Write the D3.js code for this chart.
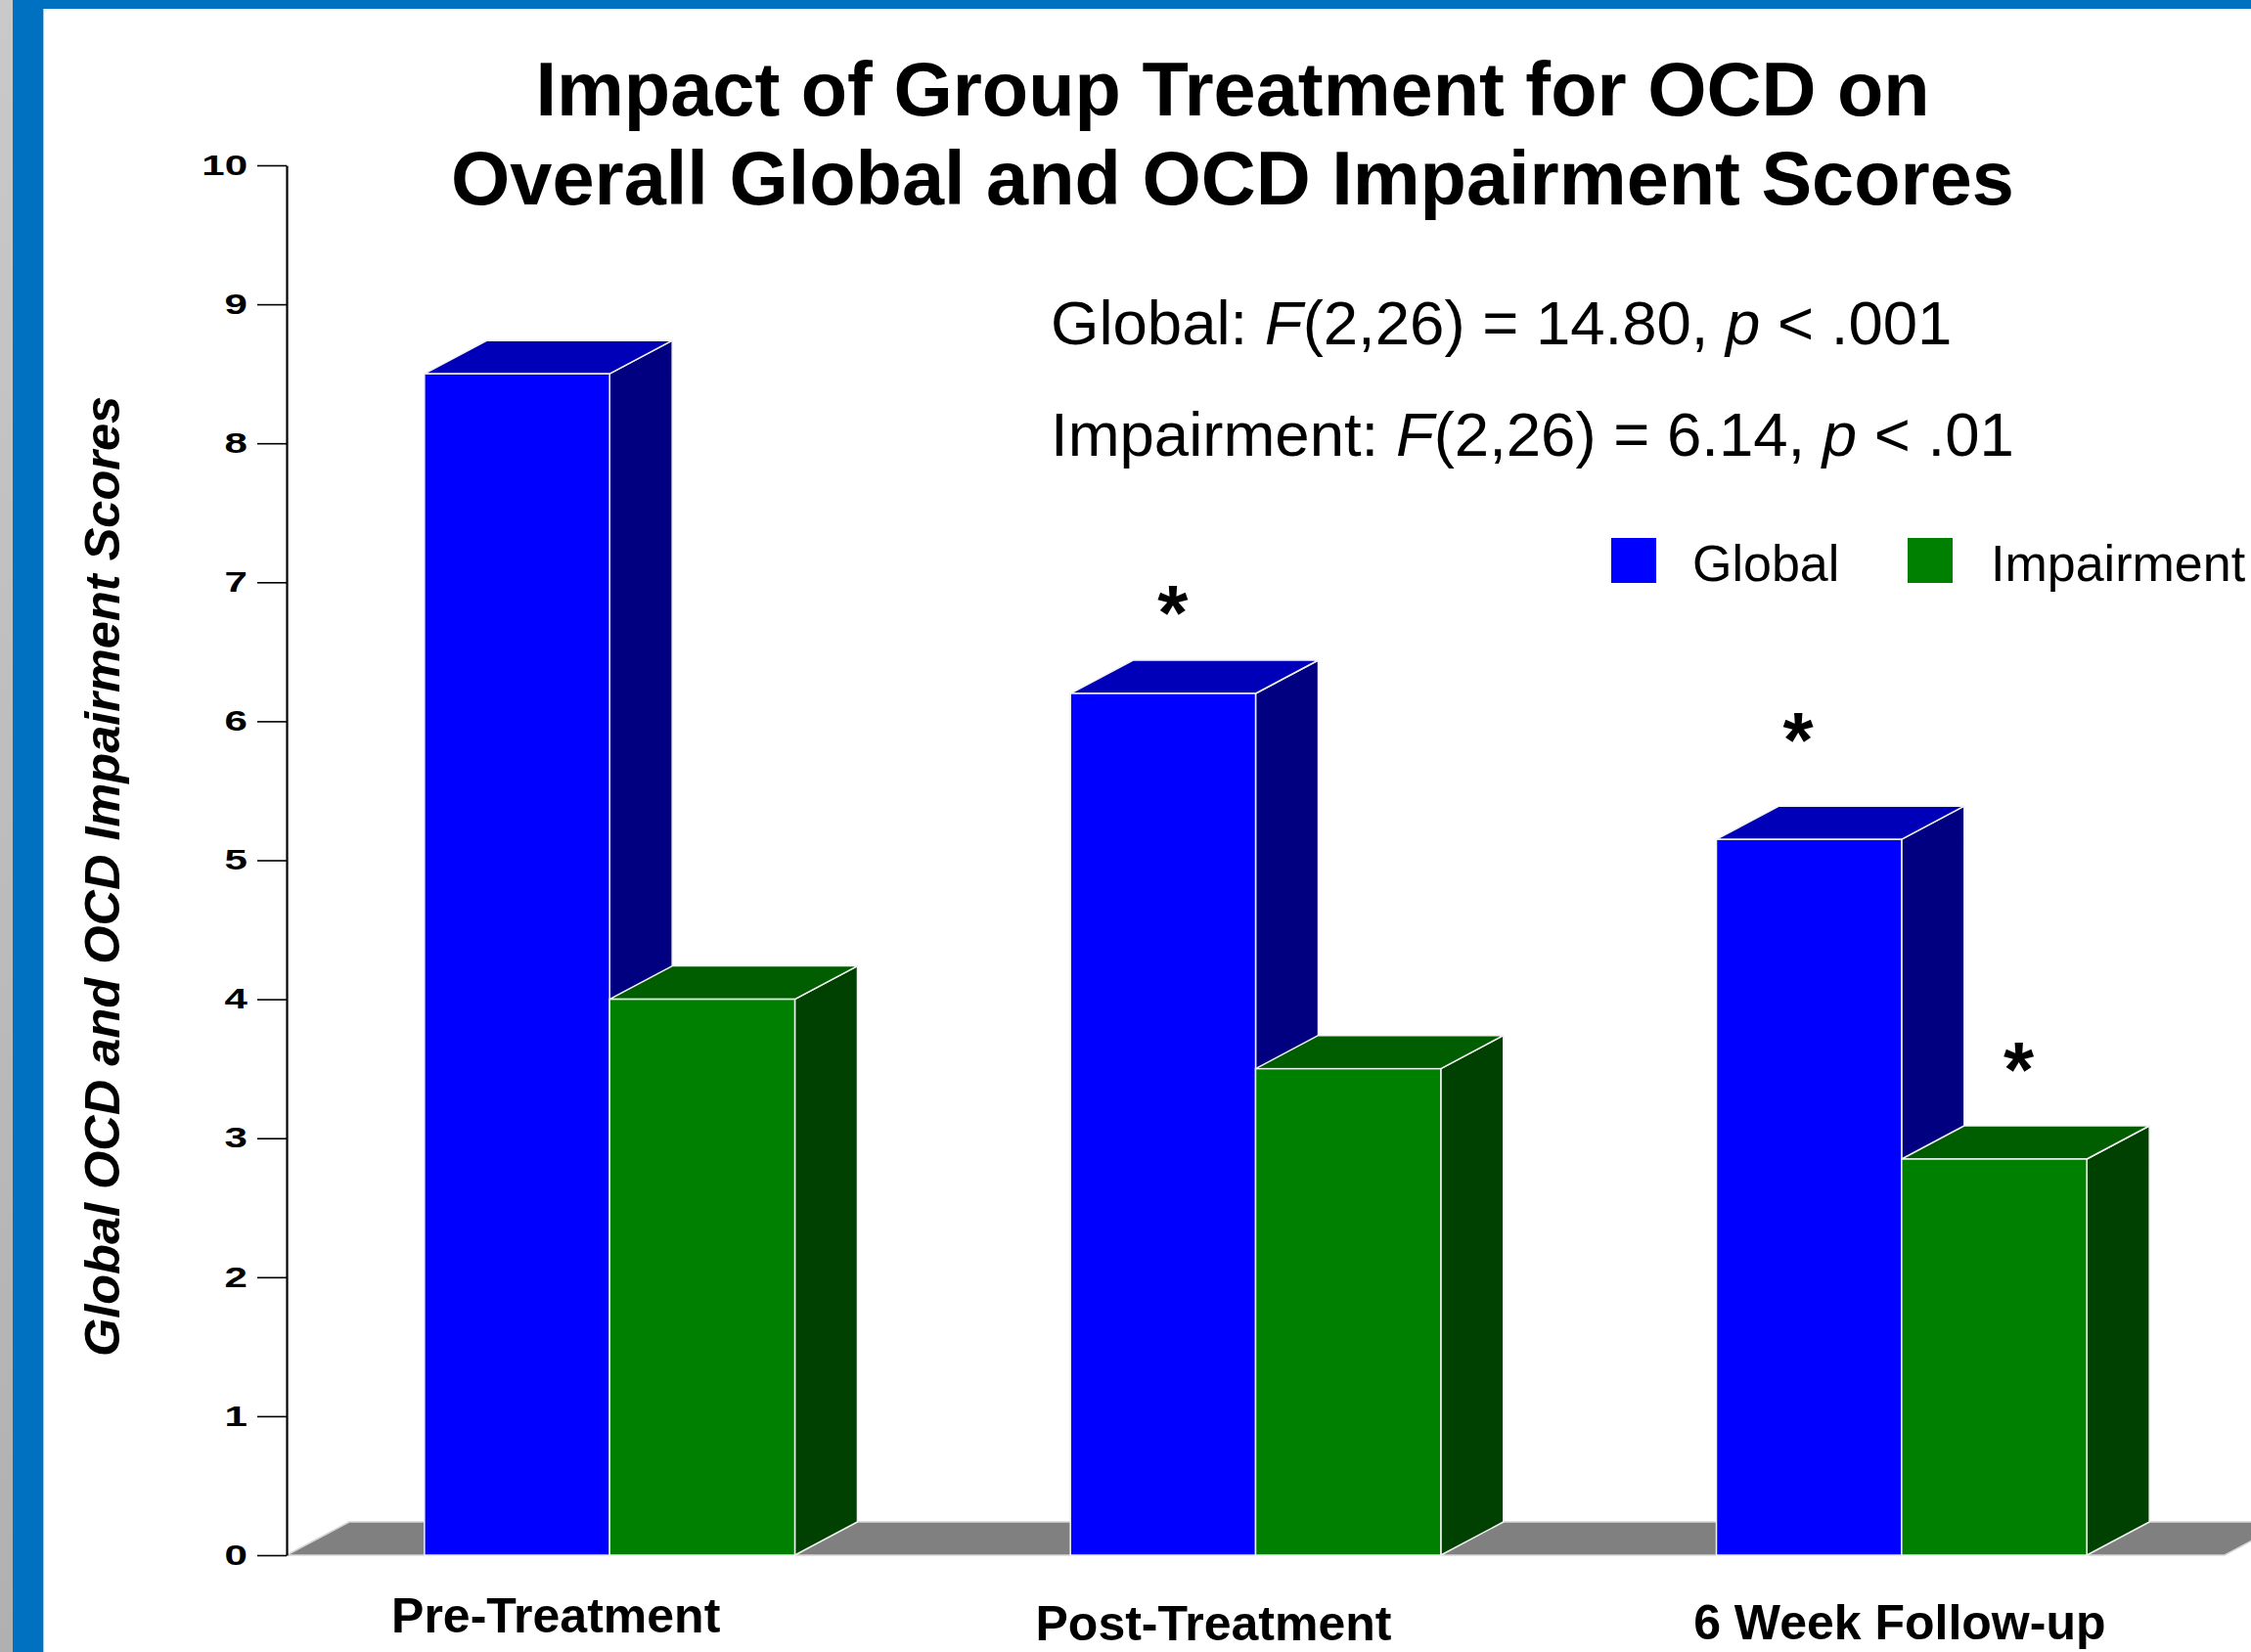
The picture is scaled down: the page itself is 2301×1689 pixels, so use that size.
<!DOCTYPE html>
<html>
<head>
<meta charset="utf-8">
<script src="https://cdn.jsdelivr.net/npm/d3@7"></script>
<style>
  html, body { margin: 0; padding: 0; background: #ffffff; overflow: hidden; }
  svg { display: block; }
</style>
</head>
<body>
<svg id="chart" width="2301" height="1689"></svg>
<script>
// ---- data ----
const categories = ["Pre-Treatment", "Post-Treatment", "6 Week Follow-up"];
const seriesNames = ["Global", "Impairment"];
const globalScores = [8.5, 6.2, 5.15];
const impairmentScores = [4.0, 3.5, 2.85];
const yTickValues = [0, 1, 2, 3, 4, 5, 6, 7, 8, 9, 10];
const significantBars = [
  { category: "Post-Treatment", series: "Global" },
  { category: "6 Week Follow-up", series: "Global" },
  { category: "6 Week Follow-up", series: "Impairment" }
];
const titleLines = [
  "Impact of Group Treatment for OCD on",
  "Overall Global and OCD Impairment Scores"
];
const yAxisTitle = "Global OCD and OCD Impairment Scores";
// each stat line as [text, italic?] runs
const statLines = [
  [["Global: ", false], ["F", true], ["(2,26) = 14.80, ", false], ["p", true], [" < .001", false]],
  [["Impairment: ", false], ["F", true], ["(2,26) = 6.14, ", false], ["p", true], [" < .01", false]]
];

const valuesBySeries = { Global: globalScores, Impairment: impairmentScores };
const rows = categories.map((c, i) => ({
  category: c,
  values: seriesNames.map(s => ({ series: s, value: valuesBySeries[s][i] }))
}));

// ---- layout ----
const svg = d3.select("#chart");
const W = 2301, H = 1689;
const plot = { left: 293, right: 2274, top: 169, bottom: 1590 };
const depth = { dx: 64, dy: 34 };

const faces = {
  Global:     { front: "#0000ff", top: "#0000b8", side: "#000080" },
  Impairment: { front: "#008000", top: "#005e00", side: "#004000" }
};

const y = d3.scaleLinear().domain([0, 10]).range([plot.bottom, plot.top]);
const x0 = d3.scaleBand().domain(categories).range([plot.left, plot.right])
  .paddingInner(0.4266).paddingOuter(0.2133);
const x1 = d3.scaleBand().domain(seriesNames).range([0, x0.bandwidth()]);

// ---- slide frame ----
const defs = svg.append("defs");
const grad = defs.append("linearGradient").attr("id", "edgeGray")
  .attr("x1", 0).attr("y1", 0).attr("x2", 0).attr("y2", 1);
grad.append("stop").attr("offset", "0%").attr("stop-color", "#c9c9c9");
grad.append("stop").attr("offset", "100%").attr("stop-color", "#b0b0b0");

svg.append("rect").attr("x", 0).attr("y", 0).attr("width", 13).attr("height", H).attr("fill", "url(#edgeGray)");
svg.append("rect").attr("x", 13).attr("y", 0).attr("width", 31).attr("height", H).attr("fill", "#0071c1");
svg.append("rect").attr("x", 13).attr("y", 0).attr("width", W - 13).attr("height", 9).attr("fill", "#0071c1");
svg.append("line").attr("x1", 44.5).attr("x2", 44.5).attr("y1", 9).attr("y2", H)
  .attr("stroke", "#9fcbee").attr("stroke-width", 1);

// ---- floor ----
const y0 = y(0);
const [rx0, rx1] = x0.range();
svg.append("polygon")
  .attr("points", [
    [rx0, y0], [rx0 + depth.dx, y0 - depth.dy],
    [rx1 + depth.dx, y0 - depth.dy], [rx1, y0]
  ].map(p => p.join(",")).join(" "))
  .attr("fill", "#808080")
  .attr("stroke", "#d6d6d6").attr("stroke-width", 1.5);

// ---- 3D bars ----
const bars = svg.append("g").attr("class", "bars");
rows.forEach(row => {
  const gx = x0(row.category);
  row.values.forEach(d => {
    const xl = gx + x1(d.series);
    const w = x1.bandwidth();
    const yt = y(d.value);
    const c = faces[d.series];
    const g = bars.append("g");
    g.append("polygon")
      .attr("points", [[xl + w, yt], [xl + w + depth.dx, yt - depth.dy],
        [xl + w + depth.dx, y0 - depth.dy], [xl + w, y0]].map(p => p.join(",")).join(" "))
      .attr("fill", c.side).attr("stroke", "#f2f2f2").attr("stroke-width", 1.5).attr("stroke-linejoin", "round");
    g.append("polygon")
      .attr("points", [[xl, yt], [xl + depth.dx, yt - depth.dy],
        [xl + w + depth.dx, yt - depth.dy], [xl + w, yt]].map(p => p.join(",")).join(" "))
      .attr("fill", c.top).attr("stroke", "#f2f2f2").attr("stroke-width", 1.5).attr("stroke-linejoin", "round");
    g.append("rect")
      .attr("x", xl).attr("y", yt).attr("width", w).attr("height", y0 - yt)
      .attr("fill", c.front).attr("stroke", "#f2f2f2").attr("stroke-width", 1.5);
  });
});

// ---- y axis ----
const tickStretch = 1.45;
const axisG = svg.append("g")
  .attr("transform", `translate(${plot.left},0)`)
  .call(d3.axisLeft(y).tickValues(yTickValues).tickFormat(d3.format("d"))
    .tickSize(30).tickSizeOuter(0).tickPadding(10));
axisG.select(".domain").attr("stroke", "#000").attr("stroke-width", 2.2);
axisG.selectAll(".tick line").attr("stroke", "#000").attr("stroke-width", 1.6);
axisG.selectAll(".tick text")
  .attr("x", -40 / tickStretch)
  .attr("transform", `scale(${tickStretch},1)`)
  .attr("fill", "#000")
  .style("font-family", "'Liberation Sans', Arial, sans-serif")
  .style("font-weight", "bold")
  .style("font-size", "29px");

// y-axis title
svg.append("text")
  .attr("transform", "translate(122,896) rotate(-90)")
  .attr("text-anchor", "middle")
  .style("font-family", "'Liberation Sans', Arial, sans-serif")
  .style("font-weight", "bold").style("font-style", "italic")
  .style("font-size", "50.5px")
  .text(yAxisTitle);

// ---- category labels (hand-set offsets from each group's centre) ----
const labelPlacement = {
  "Pre-Treatment":    { dx: -55, baseline: 1669 },
  "Post-Treatment":   { dx: -43, baseline: 1677 },
  "6 Week Follow-up": { dx: -2,  baseline: 1676 }
};
svg.append("g").selectAll("text").data(categories).join("text")
  .attr("x", d => x0(d) + x0.bandwidth() / 2 + labelPlacement[d].dx)
  .attr("y", d => labelPlacement[d].baseline)
  .attr("text-anchor", "middle")
  .style("font-family", "'Liberation Sans', Arial, sans-serif")
  .style("font-weight", "bold")
  .style("font-size", "50px")
  .text(d => d);

// ---- title ----
svg.append("g").selectAll("text").data(titleLines).join("text")
  .attr("x", 1260)
  .attr("y", (d, i) => 118 + i * 91)
  .attr("text-anchor", "middle")
  .style("font-family", "'Liberation Sans', Arial, sans-serif")
  .style("font-weight", "bold")
  .style("font-size", "77.5px")
  .text(d => d);

// ---- statistics ----
const statG = svg.append("g");
statLines.forEach((runs, i) => {
  const t = statG.append("text")
    .attr("x", 1074).attr("y", 352 + i * 114)
    .style("font-family", "'Liberation Sans', Arial, sans-serif")
    .style("font-size", "63.5px");
  runs.forEach(([txt, it]) => {
    t.append("tspan").style("font-style", it ? "italic" : "normal").text(txt);
  });
});

// ---- legend ----
const legendItems = [
  { name: "Global", box: 1647, label: 1730 },
  { name: "Impairment", box: 1950, label: 2035 }
];
const legG = svg.append("g");
legendItems.forEach(it => {
  legG.append("rect").attr("x", it.box).attr("y", 550).attr("width", 46).attr("height", 46)
    .attr("fill", faces[it.name].front);
  legG.append("text").attr("x", it.label).attr("y", 594)
    .style("font-family", "'Liberation Sans', Arial, sans-serif")
    .style("font-size", "52px")
    .text(it.name);
});

// ---- significance asterisks ----
const starOffsets = {
  "Post-Treatment|Global": { dx: 10, dy: -93 },
  "6 Week Follow-up|Global": { dx: -11, dy: -113 },
  "6 Week Follow-up|Impairment": { dx: 25, dy: -102 }
};
const starSize = 80;
svg.append("g").selectAll("text").data(significantBars).join("text")
  .attr("x", d => x0(d.category) + x1(d.series) + x1.bandwidth() / 2 + starOffsets[d.category + "|" + d.series].dx)
  .attr("y", d => {
    const v = valuesBySeries[d.series][categories.indexOf(d.category)];
    return y(v) + starOffsets[d.category + "|" + d.series].dy + starSize * 0.48;
  })
  .attr("text-anchor", "middle")
  .style("font-family", "'Liberation Sans', Arial, sans-serif")
  .style("font-weight", "bold")
  .style("font-size", starSize + "px")
  .text("*");
</script>
</body>
</html>
